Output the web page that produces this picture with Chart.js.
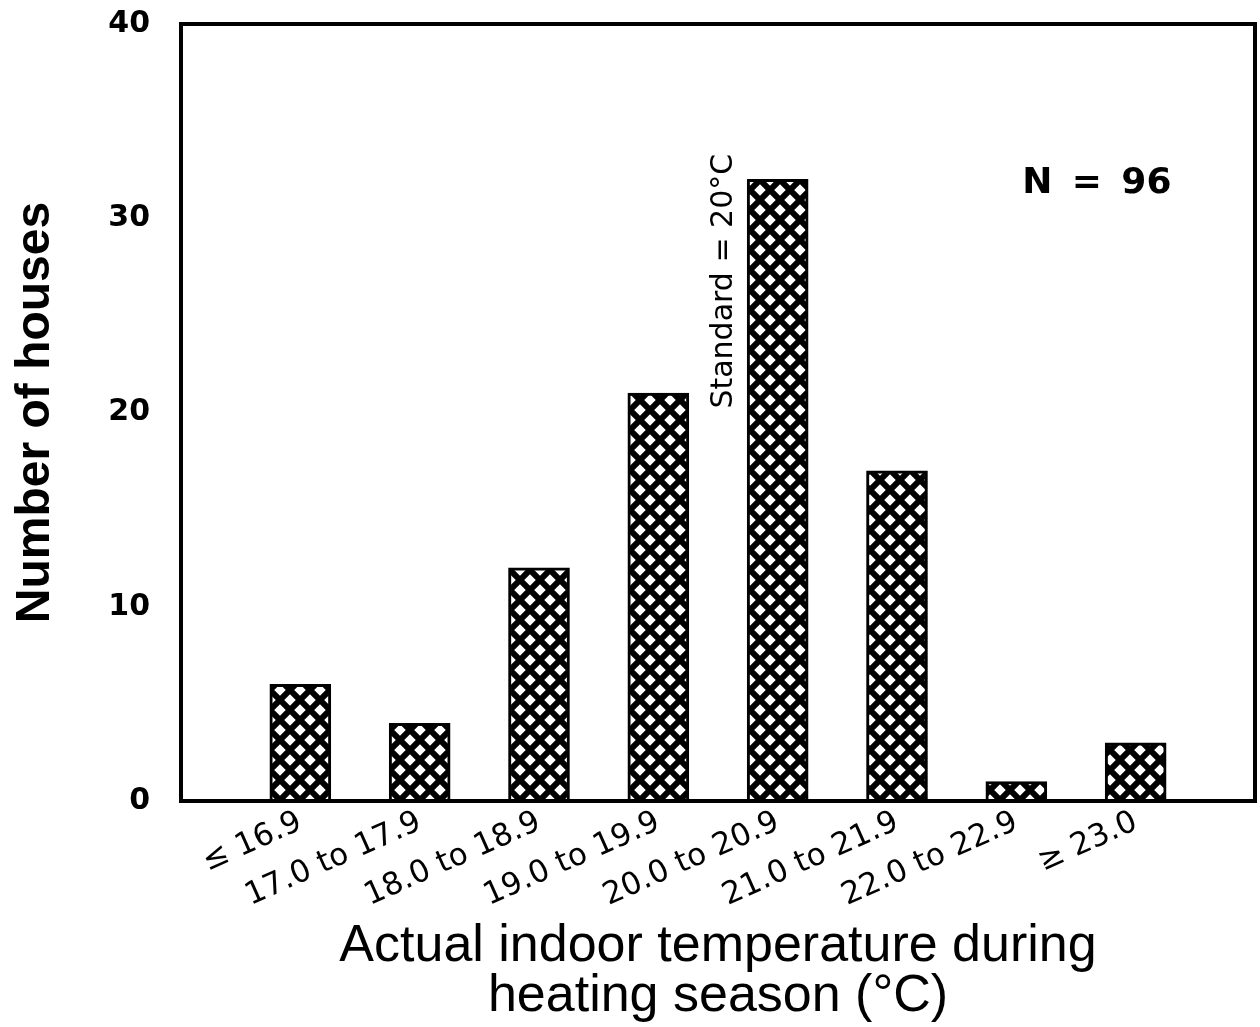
<!DOCTYPE html>
<html>
<head>
<meta charset="utf-8">
<script src="https://cdn.jsdelivr.net/npm/chart.js@4.4.1/dist/chart.umd.min.js"></script>
<style>
  html, body { margin: 0; padding: 0; background: #fff; }
  #grafica { display: block; }
</style>
</head>
<body>
<canvas id="grafica" width="1260" height="1027"></canvas>
<script>
// Datos
const categorias = ['≤ 16.9', '17.0 to 17.9', '18.0 to 18.9', '19.0 to 19.9', '20.0 to 20.9', '21.0 to 21.9', '22.0 to 22.9', '≥ 23.0'];
const casas = [6, 4, 12, 21, 32, 17, 1, 3];
const ticksY = [0, 10, 20, 30, 40];
const tituloX = ['Actual indoor temperature during', 'heating season (°C)'];
const tituloY = 'Number of houses';
const notaN = ['N', '=', '96'];
const notaEstandar = 'Standard = 20°C';

// trama cruzada (rombos blancos sobre negro)
function crearTrama() {
    const c = document.createElement('canvas');
    c.width = 20; c.height = 20;
    const g = c.getContext('2d');
    g.fillStyle = '#fff';
    g.fillRect(0, 0, 20, 20);
    g.strokeStyle = '#000';
    g.lineWidth = 6;
    g.beginPath();
    for (const k of [-20, 0, 20]) {
        g.moveTo(k - 5, -5); g.lineTo(k + 25, 25);
        g.moveTo(k - 5, 25); g.lineTo(k + 25, -5);
    }
    g.stroke();
    return g.createPattern(c, 'repeat');
}

const marcoYNotas = {
    id: 'marcoYNotas',
    beforeDraw(chart) {
        const ctx = chart.ctx;
        ctx.save();
        ctx.fillStyle = '#fff';
        ctx.fillRect(0, 0, chart.width, chart.height);
        ctx.restore();
    },
    afterDraw(chart) {
        const { ctx, chartArea: a, scales: { x, y } } = chart;
        ctx.save();
        ctx.strokeStyle = '#000';
        ctx.lineWidth = 4;
        ctx.strokeRect(a.left, a.top, a.right - a.left, a.bottom - a.top);

        // N = 96
        ctx.fillStyle = '#000';
        ctx.font = 'bold 36px "DejaVu Sans", sans-serif';
        ctx.textBaseline = 'middle';
        const yN = y.getPixelForValue(31.8);
        ctx.textAlign = 'left';
        ctx.fillText(notaN[0], x.getPixelForValue(7.05), yN);
        ctx.textAlign = 'center';
        ctx.fillText(notaN[1], x.getPixelForValue(7.59), yN);
        ctx.textAlign = 'left';
        ctx.fillText(notaN[2], x.getPixelForValue(7.88), yN);

        // Standard = 20°C (vertical)
        ctx.translate(x.getPixelForValue(4.555), y.getPixelForValue(20.2));
        ctx.rotate(-Math.PI / 2);
        ctx.textAlign = 'left';
        ctx.textBaseline = 'middle';
        ctx.font = '30px "DejaVu Sans", sans-serif';
        ctx.fillText(notaEstandar, 0, 0);
        ctx.restore();
    }
};

document.addEventListener('DOMContentLoaded', function() {
    try {
        const trama = crearTrama();
        new Chart(document.getElementById('grafica').getContext('2d'), {
            type: 'bar',
            data: {
                datasets: [{
                    data: casas.map((v, i) => ({ x: i + 1, y: v })),
                    backgroundColor: trama,
                    borderColor: '#000',
                    borderWidth: 3,
                    barThickness: 61
                }]
            },
            options: {
                responsive: false,
                animation: false,
                layout: { padding: { top: 24, right: 5, left: 0, bottom: 0 } },
                plugins: { legend: { display: false }, tooltip: { enabled: false } },
                scales: {
                    x: {
                        type: 'linear',
                        min: 0,
                        max: 9,
                        offset: false,
                        grid: { display: false, drawTicks: false },
                        border: { display: false },
                        afterBuildTicks: s => { s.ticks = categorias.map((c, i) => ({ value: i + 1 })); },
                        afterFit: s => { s.height = 226; s.paddingLeft = 0; s.paddingRight = 0; },
                        ticks: {
                            autoSkip: false,
                            minRotation: 24,
                            maxRotation: 24,
                            padding: 3,
                            color: '#000',
                            font: { family: '"DejaVu Sans", sans-serif', size: 31 },
                            callback: v => categorias[v - 1] || ''
                        },
                        title: {
                            display: true,
                            text: tituloX,
                            color: '#000',
                            font: { family: '"Liberation Sans", Arial, sans-serif', size: 52, lineHeight: 0.97 },
                            padding: { top: 0, bottom: 5 }
                        }
                    },
                    y: {
                        min: 0,
                        max: 40,
                        grid: { display: false, drawTicks: false },
                        border: { display: false },
                        afterBuildTicks: s => { s.ticks = ticksY.map(v => ({ value: v })); },
                        afterFit: s => { s.width = 181; s.paddingTop = 0; s.paddingBottom = 0; },
                        ticks: {
                            padding: 31,
                            color: '#000',
                            font: { family: '"DejaVu Sans", sans-serif', size: 30, weight: 'bold' }
                        },
                        title: {
                            display: true,
                            text: tituloY,
                            color: '#000',
                            font: { family: '"Liberation Sans", Arial, sans-serif', size: 48, weight: 'bold', lineHeight: 1 },
                            padding: { top: 12, bottom: 0 }
                        }
                    }
                }
            },
            plugins: [marcoYNotas]
        });
    } catch (e) { console.error('Error en la grafica:', e); }
});
</script>
</body>
</html>
